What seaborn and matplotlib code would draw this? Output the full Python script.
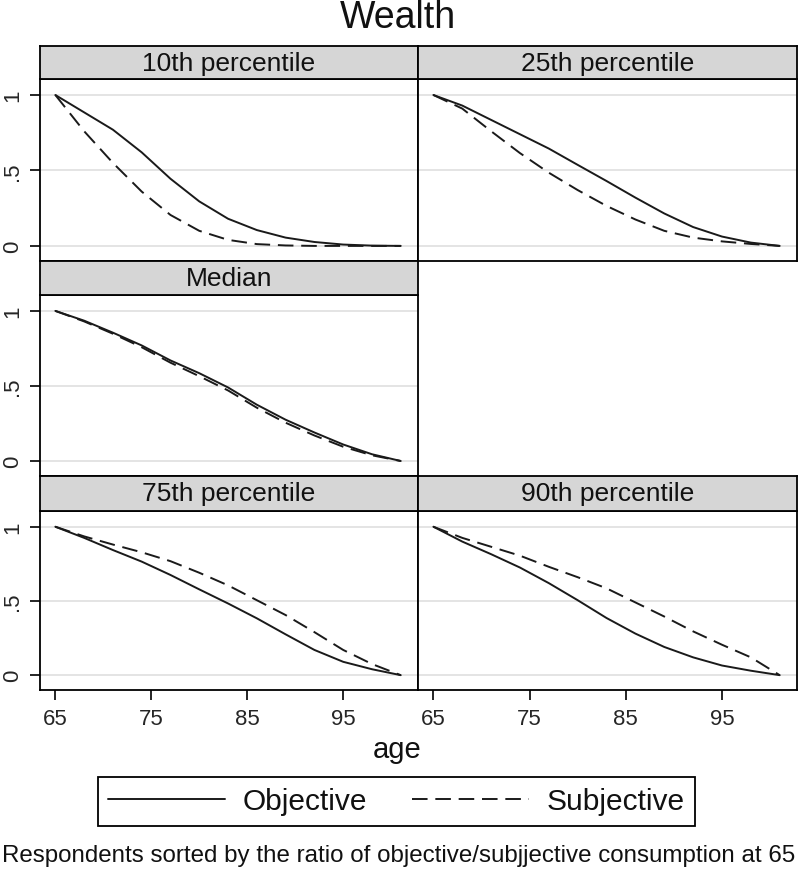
import pandas as pd
import seaborn as sns
import matplotlib.pyplot as plt

# values, every 3 years from 65 to 101
ages = [65, 68, 71, 74, 77, 80, 83, 86, 89, 92, 95, 98, 101]

p10_obj = [1.0, 0.885, 0.77, 0.62, 0.445, 0.295, 0.18, 0.105, 0.055, 0.026, 0.009, 0.002, 0.0]
p10_subj = [1.0, 0.76, 0.55, 0.36, 0.205, 0.10, 0.04, 0.012, 0.003, 0.0, 0.0, 0.0, 0.0]
p25_obj = [1.0, 0.93, 0.835, 0.74, 0.645, 0.537, 0.43, 0.32, 0.215, 0.125, 0.062, 0.022, 0.0]
p25_subj = [1.0, 0.91, 0.76, 0.615, 0.485, 0.37, 0.265, 0.175, 0.10, 0.055, 0.03, 0.013, 0.0]
p50_obj = [1.0, 0.935, 0.855, 0.77, 0.67, 0.585, 0.49, 0.375, 0.275, 0.19, 0.11, 0.045, 0.0]
p50_subj = [1.0, 0.93, 0.848, 0.758, 0.655, 0.565, 0.47, 0.355, 0.255, 0.17, 0.095, 0.038, 0.0]
p75_obj = [1.0, 0.925, 0.843, 0.765, 0.675, 0.578, 0.483, 0.383, 0.275, 0.17, 0.09, 0.04, 0.0]
p75_subj = [1.0, 0.935, 0.88, 0.828, 0.768, 0.69, 0.605, 0.505, 0.405, 0.29, 0.17, 0.075, 0.0]
p90_obj = [1.0, 0.9, 0.815, 0.725, 0.62, 0.505, 0.385, 0.28, 0.19, 0.12, 0.065, 0.03, 0.0]
p90_subj = [1.0, 0.925, 0.865, 0.805, 0.73, 0.66, 0.585, 0.49, 0.395, 0.295, 0.205, 0.12, 0.0]

panel_names = ["10th percentile", "25th percentile", "Median", "75th percentile", "90th percentile"]
series_names = ["Objective", "Subjective"]
x_ticks = [65, 75, 85, 95]
y_ticks = [0, 0.5, 1]
y_tick_labels = ["0", ".5", "1"]

values = {
    "10th percentile": (p10_obj, p10_subj),
    "25th percentile": (p25_obj, p25_subj),
    "Median": (p50_obj, p50_subj),
    "75th percentile": (p75_obj, p75_subj),
    "90th percentile": (p90_obj, p90_subj),
}

rows_list = []
for name in panel_names:
    for s, vals in zip(series_names, values[name]):
        for a, v in zip(ages, vals):
            rows_list.append({"panel": name, "series": s, "age": a, "value": v})
df = pd.DataFrame(rows_list)

sns.set_theme(style="white")
plt.rcParams["font.family"] = ["Liberation Sans", "DejaVu Sans"]
plt.rcParams["text.color"] = "#111111"

W, H = 800, 870
fig = plt.figure(figsize=(W / 100, H / 100), dpi=100)


def frac(x0, y0, x1, y1):
    return [x0 / W, 1 - y1 / H, (x1 - x0) / W, (y1 - y0) / H]


cols = [(40, 418), (418, 797)]
rows = [(47, 80, 262), (262, 296, 477), (477, 512, 691)]
layout = {
    "10th percentile": (0, 0),
    "25th percentile": (0, 1),
    "Median": (1, 0),
    "75th percentile": (2, 0),
    "90th percentile": (2, 1),
}

line_color = "#1a1a1a"
first_ax = None
for name in panel_names:
    r, c = layout[name]
    x0, x1 = cols[c]
    top, mid, bot = rows[r]

    ax = fig.add_axes(frac(x0, mid, x1, bot))
    sns.lineplot(data=df[df["panel"] == name], x="age", y="value",
                 style="series", style_order=series_names,
                 dashes={"Objective": "", "Subjective": (8, 4)},
                 color=line_color, linewidth=1.4, legend=False, ax=ax)
    ax.set_xlim(63.4, 102.8)
    ax.set_ylim(-0.1, 1.106)
    ax.set_xlabel("")
    ax.set_ylabel("")
    ax.set_yticks(y_ticks)
    ax.set_xticks(x_ticks)
    ax.yaxis.grid(True, color="#e4e4e4", linewidth=1.4)
    ax.set_axisbelow(True)
    for sp in ax.spines.values():
        sp.set_color("black")
        sp.set_linewidth(1.3)

    if c == 0:
        ax.set_yticklabels(y_tick_labels, rotation=90, va="center", fontsize=16)
        ax.tick_params(axis="y", left=True, length=7, width=1.2, pad=5, color="black")
    else:
        ax.tick_params(axis="y", left=False, labelleft=False)
    if r == 2:
        ax.set_xticklabels([str(t) for t in x_ticks], fontsize=16)
        ax.tick_params(axis="x", bottom=True, length=7, width=1.2, pad=6, color="black")
    else:
        ax.tick_params(axis="x", bottom=False, labelbottom=False)

    if first_ax is None:
        first_ax = ax

    hdr = fig.add_axes(frac(x0, top, x1, mid))
    hdr.set_facecolor("#d6d6d6")
    hdr.set_xticks([])
    hdr.set_yticks([])
    for sp in hdr.spines.values():
        sp.set_color("black")
        sp.set_linewidth(1.3)
    hdr.text(0.5, 0.5, name, ha="center", va="center", fontsize=19,
             transform=hdr.transAxes)

fig.text(398 / W, 1 - 18 / H, "Wealth", ha="center", va="center", fontsize=27)
fig.text(397.5 / W, 1 - 750 / H, "age", ha="center", va="center", fontsize=21)

handles = first_ax.lines[:2]
leg = fig.legend(handles, series_names, loc="center",
                 bbox_to_anchor=(396.5 / W, 1 - 802.5 / H), ncol=2,
                 frameon=True, fancybox=False, edgecolor="black", framealpha=1,
                 fontsize=21.5, handlelength=3.9, handletextpad=0.6,
                 columnspacing=1.5, borderpad=0.35)
leg.get_frame().set_linewidth(1.3)

fig.text(2 / W, 1 - 856 / H,
         "Respondents sorted by the ratio of objective/subjjective consumption at 65",
         ha="left", va="center", fontsize=17.4)

fig.savefig("out.png", dpi=100)
